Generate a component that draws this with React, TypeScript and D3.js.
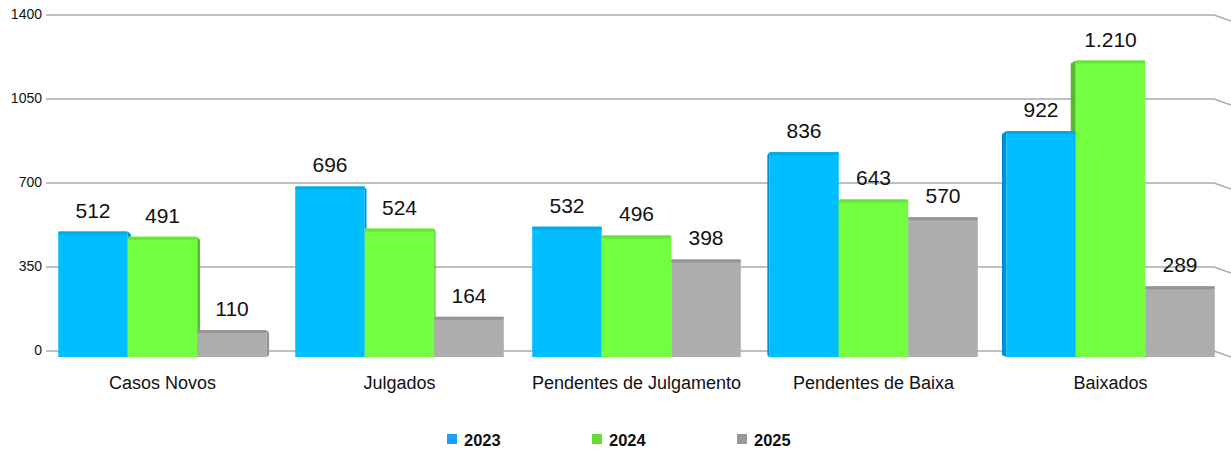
import React from "react";
import * as d3 from "d3";

const categories = ["Casos Novos", "Julgados", "Pendentes de Julgamento", "Pendentes de Baixa", "Baixados"];
const seriesNames = ["2023", "2024", "2025"];
const values2023 = [512, 696, 532, 836, 922];
const values2024 = [491, 524, 496, 643, 1210];
const values2025 = [110, 164, 398, 570, 289];
const valueLabels2023 = ["512", "696", "532", "836", "922"];
const valueLabels2024 = ["491", "524", "496", "643", "1.210"];
const valueLabels2025 = ["110", "164", "398", "570", "289"];
const yTicks = [0, 350, 700, 1050, 1400];

const barColors = ["#00BEFF", "#73FF40", "#ADADAD"];
const topColors = ["#00AAE8", "#66E638", "#959595"];
const sideColors = ["#008ED0", "#55B830", "#939393"];
const legendColors = ["#1AA0FF", "#66DD33", "#999999"];

const W = 1231;
const H = 450;
const FONT = "'Liberation Sans', Arial, sans-serif";

export default function App() {
  const series = [values2023, values2024, values2025];
  const labels = [valueLabels2023, valueLabels2024, valueLabels2025];

  const x0 = d3.scaleBand<string>().domain(categories).range([44, 1229]).paddingInner(0.12).paddingOuter(0.06);
  const x1 = d3.scaleBand<string>().domain(seriesNames).range([0, x0.bandwidth()]).padding(0);
  const yGrid = d3.scaleLinear().domain([0, 1400]).range([351, 15]);
  const yBar = d3.scaleLinear().domain([0, 1400]).range([357, 14]);
  const centerX = W / 2;

  const bars = categories.flatMap((c, ci) =>
    seriesNames.map((s, si) => {
      const bw = x1.bandwidth();
      const bx = (x0(c) || 0) + (x1(s) || 0);
      const v = series[si][ci];
      const yTop = yBar(v);
      const yB = yBar(0);
      const off = (bx + bw / 2 - centerX) / 100;
      return { key: c + s, ci, si, bx, bw, yTop, yB, off, label: labels[si][ci] };
    })
  );

  return (
    <svg width={W} height={H} style={{ position: "absolute", left: 0, top: 0, background: "#fff" }}>
      <rect x={0} y={0} width={W} height={H} fill="#fff" />
      {yTicks.map((t) => {
        const y = yGrid(t);
        return (
          <g key={t}>
            <polyline points={`46,${y} 1214,${y} 1231,${y + 6}`} fill="none" stroke="#ABABAB" strokeWidth={1.6} />
            <text x={42} y={y} textAnchor="end" dominantBaseline="middle" fontFamily={FONT} fontSize={14} fill="#111">
              {t}
            </text>
          </g>
        );
      })}
      {bars.map((b) => {
        const d = Math.abs(b.off);
        if (d < 1.5) return null;
        if (b.off > 0) {
          return (
            <polygon
              key={"f" + b.key}
              points={`${b.bx - d},${b.yTop + 3} ${b.bx},${b.yTop} ${b.bx},${b.yB} ${b.bx - d},${b.yB - 2}`}
              fill={sideColors[b.si]}
            />
          );
        }
        const r = b.bx + b.bw;
        return (
          <polygon
            key={"f" + b.key}
            points={`${r},${b.yTop} ${r + d * 0.6},${b.yTop + 3} ${r + d * 0.6},${b.yB - 2} ${r},${b.yB}`}
            fill={sideColors[b.si]}
          />
        );
      })}
      {bars.map((b) => (
        <g key={b.key}>
          <rect x={b.bx} y={b.yTop} width={b.bw} height={b.yB - b.yTop} fill={barColors[b.si]} />
          <rect x={b.bx} y={b.yTop} width={b.bw} height={3} fill={topColors[b.si]} rx={1.5} />
          <text x={b.bx + b.bw / 2} y={b.yTop - 14} textAnchor="middle" fontFamily={FONT} fontSize={21} fill="#111">
            {b.label}
          </text>
        </g>
      ))}
      {categories.map((c) => (
        <text
          key={c}
          x={(x0(c) || 0) + x0.bandwidth() / 2}
          y={389}
          textAnchor="middle"
          fontFamily={FONT}
          fontSize={18}
          fill="#111"
        >
          {c}
        </text>
      ))}
      {seriesNames.map((s, i) => {
        const lx = 447 + i * 145;
        return (
          <g key={s}>
            <rect x={lx} y={434} width={10} height={10} fill={legendColors[i]} />
            <text x={lx + 17} y={446} fontFamily={FONT} fontSize={16.5} fontWeight="bold" fill="#111">
              {s}
            </text>
          </g>
        );
      })}
    </svg>
  );
}
